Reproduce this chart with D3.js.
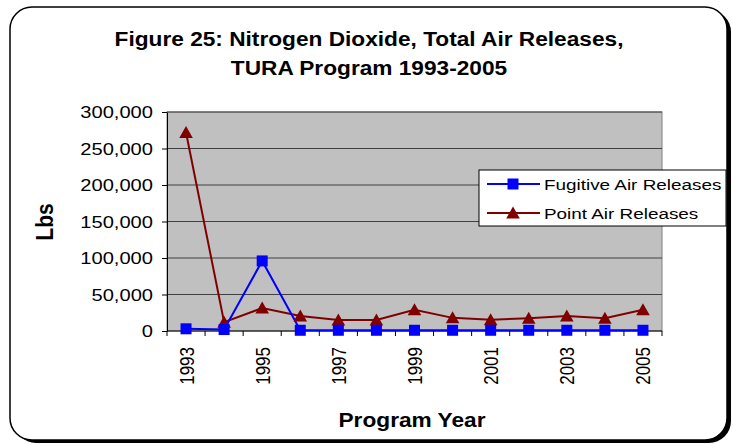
<!DOCTYPE html>
<html>
<head>
<meta charset="utf-8">
<script src="https://cdn.jsdelivr.net/npm/d3@7"></script>
<style>
body { margin: 0; background: #fff; }
text { font-family: Arial, "Liberation Sans", sans-serif; fill: #000; }
</style>
</head>
<body>
<div id="chart"></div>
<script>
var years = ['1993', '1994', '1995', '1996', '1997', '1998', '1999', '2000', '2001', '2002', '2003', '2004', '2005'];
var fugitive = [3000, 2000, 96000, 1000, 1000, 1000, 1000, 1000, 1000, 1000, 1000, 1000, 1000];
var pointAir = [272000, 12000, 31500, 20500, 15000, 15000, 29000, 18000, 15500, 17500, 20500, 17500, 29000];
var yTicks = [0, 50000, 100000, 150000, 200000, 250000, 300000];
var yearLabels = ['1993', '1995', '1997', '1999', '2001', '2003', '2005'];
var seriesNames = ['Fugitive Air Releases', 'Point Air Releases'];
var titleLines = ['Figure 25: Nitrogen Dioxide, Total Air Releases,', 'TURA Program 1993-2005'];

var width = 733, height = 444;
var plot = {left: 167, right: 662, top: 112, bottom: 331};
var sx = 1.22; // the original picture is stretched sideways

var svg = d3.select('#chart')
    .append('svg')
    .attr('width', width)
    .attr('height', height);

// outer frame + drop shadow
svg.append('rect')
    .attr('x', 14).attr('y', 10)
    .attr('width', 717).attr('height', 433)
    .attr('rx', 22)
    .attr('fill', '#000');

svg.append('rect')
    .attr('x', 10).attr('y', 7)
    .attr('width', 717).attr('height', 433)
    .attr('rx', 22)
    .attr('fill', '#fff')
    .attr('stroke', '#000')
    .attr('stroke-width', 1.5);

var xScale = d3.scaleBand()
    .domain(years)
    .range([plot.left, plot.right]);

var yScale = d3.scaleLinear()
    .domain([0, 300000])
    .range([plot.bottom, plot.top]);

function cx(d, i) { return xScale(years[i]) + xScale.bandwidth() / 2; }

// plot area
svg.append('rect')
    .attr('x', plot.left).attr('y', plot.top)
    .attr('width', plot.right - plot.left)
    .attr('height', plot.bottom - plot.top)
    .attr('fill', '#c0c0c0')
    .attr('stroke', '#808080');

svg.selectAll('.grid')
    .data(yTicks.slice(1))
    .enter().append('line')
    .attr('class', 'grid')
    .attr('x1', plot.left).attr('x2', plot.right)
    .attr('y1', function(d) { return yScale(d); })
    .attr('y2', function(d) { return yScale(d); })
    .attr('stroke', '#404040')
    .attr('stroke-width', 1);

// y axis
var yAxis = d3.axisLeft(yScale)
    .tickValues(yTicks)
    .tickSize(5)
    .tickSizeOuter(0)
    .tickFormat(d3.format(','));

var gy = svg.append('g')
    .attr('transform', 'translate(' + plot.left + ',0)')
    .call(yAxis);
gy.select('.domain').attr('stroke', '#000');
gy.selectAll('.tick line').attr('stroke', '#000');
gy.selectAll('.tick text')
    .attr('x', -14 / sx)
    .attr('dy', '0.36em')
    .attr('transform', 'scale(' + sx + ',1)')
    .style('font-size', '16.5px')
    .style('font-family', 'Arial, "Liberation Sans", sans-serif');

// x axis: ticks sit between categories
svg.append('line')
    .attr('x1', plot.left).attr('x2', plot.right)
    .attr('y1', plot.bottom).attr('y2', plot.bottom)
    .attr('stroke', '#000');

svg.selectAll('.xtick')
    .data(years.concat(['end']))
    .enter().append('line')
    .attr('class', 'xtick')
    .attr('x1', function(d) { return d === 'end' ? plot.right : xScale(d); })
    .attr('x2', function(d) { return d === 'end' ? plot.right : xScale(d); })
    .attr('y1', plot.bottom).attr('y2', plot.bottom + 5)
    .attr('stroke', '#000');

svg.selectAll('.xlabel')
    .data(yearLabels)
    .enter().append('text')
    .attr('class', 'xlabel')
    .attr('transform', function(d) {
        return 'translate(' + (xScale(d) + xScale.bandwidth() / 2) + ',' + (plot.bottom + 16) + ') scale(' + sx + ',1) rotate(-90)';
    })
    .attr('dy', '0.36em')
    .style('text-anchor', 'end')
    .style('font-size', '17px')
    .text(function(d) { return d; });

// series
var lineFunction = d3.line()
    .x(cx)
    .y(function(d) { return yScale(d); });

svg.append('path')
    .attr('d', lineFunction(pointAir))
    .attr('fill', 'none')
    .attr('stroke', '#800000')
    .attr('stroke-width', 2);

svg.append('path')
    .attr('d', lineFunction(fugitive))
    .attr('fill', 'none')
    .attr('stroke', '#0000ff')
    .attr('stroke-width', 2);

var triPath = 'M0,-6.5L6.8,5.5L-6.8,5.5Z';

svg.selectAll('.tri')
    .data(pointAir)
    .enter().append('path')
    .attr('class', 'tri')
    .attr('d', triPath)
    .attr('transform', function(d, i) { return 'translate(' + cx(d, i) + ',' + yScale(d) + ')'; })
    .attr('fill', '#800000');

svg.selectAll('.sq')
    .data(fugitive)
    .enter().append('rect')
    .attr('class', 'sq')
    .attr('x', function(d, i) { return cx(d, i) - 5.5; })
    .attr('y', function(d) { return yScale(d) - 5.5; })
    .attr('width', 11).attr('height', 11)
    .attr('fill', '#0000ff');

// legend
var legend = svg.append('g');
legend.append('rect')
    .attr('x', 479).attr('y', 170)
    .attr('width', 247).attr('height', 56)
    .attr('fill', '#fff')
    .attr('stroke', '#000');

var rows = legend.selectAll('.row')
    .data(seriesNames)
    .enter().append('g')
    .attr('class', 'row')
    .attr('transform', function(d, i) { return 'translate(0,' + (184 + i * 29) + ')'; });

rows.append('line')
    .attr('x1', 487).attr('x2', 540)
    .attr('stroke', function(d, i) { return i === 0 ? '#0000ff' : '#800000'; })
    .attr('stroke-width', 2);

rows.append('path')
    .attr('d', function(d, i) { return i === 0 ? 'M-5.5,-5.5h11v11h-11Z' : triPath; })
    .attr('transform', 'translate(513,0)')
    .attr('fill', function(d, i) { return i === 0 ? '#0000ff' : '#800000'; });

rows.append('text')
    .attr('transform', 'translate(544,0) scale(' + sx + ',1)')
    .attr('dy', '0.36em')
    .style('font-size', '15.5px')
    .text(function(d) { return d; });

// titles
svg.selectAll('.title')
    .data(titleLines)
    .enter().append('text')
    .attr('class', 'title')
    .attr('transform', function(d, i) { return 'translate(369,' + (46 + i * 29) + ') scale(1.08,1)'; })
    .style('text-anchor', 'middle')
    .style('font-size', '21px')
    .style('font-weight', 'bold')
    .text(function(d) { return d; });

svg.append('text')
    .attr('transform', 'translate(412,427) scale(1.08,1)')
    .style('text-anchor', 'middle')
    .style('font-size', '21px')
    .style('font-weight', 'bold')
    .text('Program Year');

svg.append('text')
    .attr('transform', 'translate(45,222) scale(1.1,1) rotate(-90)')
    .attr('dy', '0.36em')
    .style('text-anchor', 'middle')
    .style('font-size', '21px')
    .style('font-weight', 'bold')
    .text('Lbs');
</script>
</body>
</html>
